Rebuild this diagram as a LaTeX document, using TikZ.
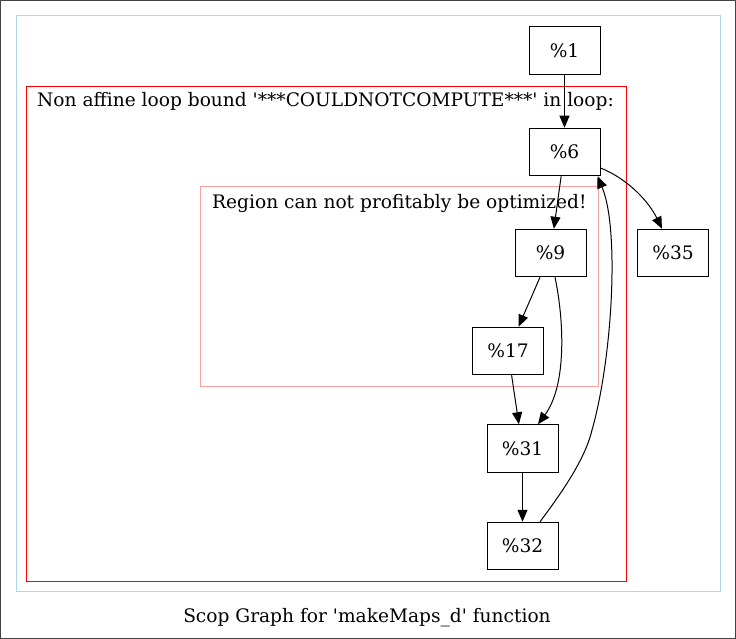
\documentclass[tikz,border=0pt]{standalone}
\usepackage{fontspec}
\setmainfont{DejaVu Serif}
\usetikzlibrary{calc,positioning,arrows.meta,fit,shapes}
\definecolor{scopblue}{RGB}{173,216,230}
\definecolor{regionpink}{RGB}{255,160,160}
\definecolor{framegray}{RGB}{68,68,68}

\begin{document}
\begin{tikzpicture}[x=1pt,y=-1pt,
	bb/.style={draw,line width=1pt,minimum width=71pt,minimum height=47.5pt,inner sep=0pt,font=\fontsize{18.6}{22}\selectfont},
	lbl/.style={inner sep=0pt,font=\fontsize{18.6}{22}\selectfont},
	edge/.style={line width=1pt,-{Triangle[length=12pt,width=10pt]}}]
			\useasboundingbox (0,0) rectangle (736,639);
			\draw[framegray,line width=1pt] (0.5,0.5) rectangle (735.5,638.5);

			% clusters
			\draw[scopblue,line width=1pt] (16,16) rectangle (720,591);
			\draw[red,line width=1pt] (26,87) rectangle (626,581);
				\node[lbl,anchor=base west] (loopLbl) at(37,107){Non affine loop bound \textquotesingle***COULDNOTCOMPUTE***\textquotesingle{} in loop:};
			\draw[regionpink,line width=1pt] (200,187) rectangle (598,386);
				\node[lbl,anchor=base west] (regLbl) at(212,208){Region can not profitably be optimized!};

			% blocks
			\node[bb] (b1) at(564.5,50.5){\%1};
			\node[bb] (b6) at(564.5,152){\%6};
			\node[bb] (b9) at(550.5,253){\%9};
			\node[bb] (b35) at(673,253){\%35};
			\node[bb] (b17) at(508,351){\%17};
			\node[bb] (b31) at(522.5,448.5){\%31};
			\node[bb] (b32) at(522.5,546){\%32};

			% edges
			\draw[edge] (b1) -- (b6);
			\draw[edge] (b6) -- (b9);
			\draw[edge] ([yshift=-16pt]b6.east) .. controls (626,178) and (648,200) .. ([xshift=-11pt]b35.north);
			\draw[edge] (b9) -- (b17);
			\draw[edge] ([xshift=4.5pt]b9.south) .. controls (564,320) and (567,385) .. ([xshift=15.5pt]b31.north);
			\draw[edge] (b17) -- (b31);
			\draw[edge] (b31) -- (b32);
			\draw[edge] ([xshift=17.5pt]b32.north) .. controls (560,495) and (585,460) .. (592,430) .. controls (612,360) and (620,230) .. ([xshift=-3pt]b6.south east);

			\node[lbl,anchor=base] (title) at(367,622){Scop Graph for \textquotesingle makeMaps\_d\textquotesingle{} function};
		\end{tikzpicture}
\end{document}
